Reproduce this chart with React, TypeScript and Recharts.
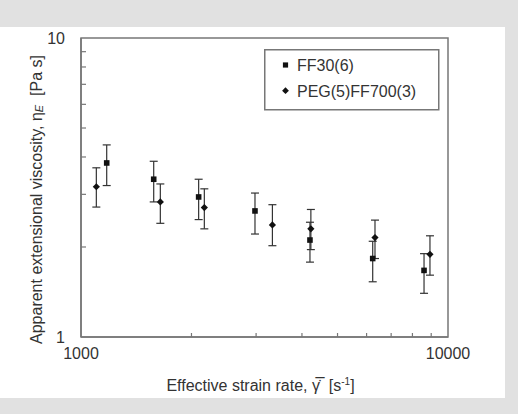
import React from 'react';
import { ScatterChart, Scatter, XAxis, YAxis, ZAxis, ErrorBar, Legend, Label, ReferenceArea } from 'recharts';

// strain rate (1/s), viscosity (Pa s) and the ends of the error bars
const ffRate = [1175, 1578, 2092, 2979, 4206, 6235, 8604];
const ffEta = [3.82, 3.37, 2.94, 2.64, 2.11, 1.83, 1.67];
const ffLow = [3.21, 2.83, 2.47, 2.21, 1.78, 1.53, 1.4];
const ffHigh = [4.39, 3.87, 3.37, 3.03, 2.42, 2.09, 1.9];

const pegRate = [1101, 1645, 2168, 3323, 4230, 6325, 8930];
const pegEta = [3.18, 2.83, 2.71, 2.37, 2.3, 2.15, 1.89];
const pegLow = [2.72, 2.4, 2.3, 2.02, 1.96, 1.83, 1.61];
const pegHigh = [3.68, 3.25, 3.13, 2.77, 2.67, 2.46, 2.18];

const xTicks = [1000, 2000, 3000, 4000, 5000, 6000, 7000, 8000, 9000, 10000];
const yTicks = [1, 2, 3, 4, 5, 6, 7, 8, 9, 10];
const xLabels = [1000, 10000];
const yLabels = [1, 10];

const build = (rate: number[], eta: number[], low: number[], high: number[]) =>
  rate.map((x, i) => ({ x, y: eta[i], err: [eta[i] - low[i], high[i] - eta[i]] }));

const ffData = build(ffRate, ffEta, ffLow, ffHigh);
const pegData = build(pegRate, pegEta, pegLow, pegHigh);

const FONT = '"Liberation Sans", Arial, sans-serif';
const AXIS = '#777';
const TEXT = '#333';
const MARK = '#111';

const squarePath = (cx: number, cy: number, r: number) =>
  `M${cx - r},${cy - r}H${cx + r}V${cy + r}H${cx - r}Z`;
const diamondPath = (cx: number, cy: number, r: number) =>
  `M${cx},${cy - r}L${cx + r},${cy}L${cx},${cy + r}L${cx - r},${cy}Z`;

const SquareDot = (props: any) => <path d={squarePath(props.cx, props.cy, 2.8)} fill={MARK} />;
const DiamondDot = (props: any) => <path d={diamondPath(props.cx, props.cy, 3.6)} fill={MARK} />;

const XTick = (props: any) => {
  const { x, y, payload } = props;
  const v = payload.value;
  if (xLabels.includes(v)) {
    return (
      <text x={x} y={y + 22} textAnchor="middle" fontSize={16} fill={TEXT} fontFamily={FONT}>
        {v}
      </text>
    );
  }
  return <line x1={x} y1={y} x2={x} y2={y - 4} stroke={AXIS} strokeWidth={1.2} />;
};

const YTick = (props: any) => {
  const { x, y, payload } = props;
  const v = payload.value;
  if (yLabels.includes(v)) {
    return (
      <text x={x - 16} y={y + 6} textAnchor="end" fontSize={16} fill={TEXT} fontFamily={FONT}>
        {v}
      </text>
    );
  }
  return <line x1={x} y1={y} x2={x + 5} y2={y} stroke={AXIS} strokeWidth={1.2} />;
};

const YTitle = (props: any) => {
  const { x, y, height } = props.viewBox;
  const cx = x + 36;
  const cy = y + height / 2 + 12;
  return (
    <text
      x={cx}
      y={cy}
      transform={`rotate(-90, ${cx}, ${cy})`}
      textAnchor="middle"
      dominantBaseline="central"
      fontSize={16}
      fill={TEXT}
      fontFamily={FONT}
      style={{ whiteSpace: 'pre' }}
    >
      Apparent extensional viscosity, η
      <tspan fontSize={11} fontStyle="italic" dy={3}>E</tspan>
      <tspan dy={-3}>{'\u00a0\u00a0[Pa s]'}</tspan>
    </text>
  );
};

const XTitle = (props: any) => {
  const { x, y, width } = props.viewBox;
  return (
    <text x={x + width / 2 - 4} y={y + 54} textAnchor="middle" fontSize={16} fill={TEXT} fontFamily={FONT}>
      Effective strain rate, {'\u03b3\u0307\u0305'}{'\u00a0\u00a0'}[s
      <tspan fontSize={10} dy={-6}>-1</tspan>
      <tspan dy={6}>]</tspan>
    </text>
  );
};

const LegendBox = (props: any) => {
  const items = props.payload || [];
  return (
    <svg width={176} height={62} style={{ display: 'block' }}>
      <rect x={0.75} y={0.75} width={174} height={60} fill="#fff" stroke={AXIS} strokeWidth={1.5} />
      {items.map((entry: any, i: number) => {
        const cy = 16 + i * 25.7;
        return (
          <g key={entry.value}>
            <path d={entry.type === 'diamond' ? diamondPath(21.5, cy, 3.4) : squarePath(21.5, cy, 2.6)} fill={MARK} />
            <text x={33} y={cy + 6} fontSize={16} fill={TEXT} fontFamily={FONT}>
              {entry.value}
            </text>
          </g>
        );
      })}
    </svg>
  );
};

export default function App() {
  return (
    <div style={{ position: 'absolute', left: 0, top: 0, width: 518, height: 414, background: '#e1e1e1' }}>
      <div style={{ position: 'absolute', left: 0, top: 27, width: 505, height: 371, background: '#fff' }}>
        <ScatterChart width={505} height={371} margin={{ top: 11, right: 57, bottom: 0, left: 0 }}>
          <XAxis
            type="number"
            dataKey="x"
            scale="log"
            domain={[1000, 10000]}
            ticks={xTicks}
            interval={0}
            allowDataOverflow
            height={61}
            tickSize={0}
            tickMargin={0}
            tick={<XTick />}
            axisLine={{ stroke: AXIS, strokeWidth: 1.5 }}
          >
            <Label content={<XTitle />} />
          </XAxis>
          <YAxis
            type="number"
            dataKey="y"
            scale="log"
            domain={[1, 10]}
            ticks={yTicks}
            interval={0}
            allowDataOverflow
            width={81}
            tickSize={0}
            tickMargin={0}
            tick={<YTick />}
            axisLine={{ stroke: AXIS, strokeWidth: 1.5 }}
          >
            <Label content={<YTitle />} />
          </YAxis>
          <ZAxis range={[30, 30]} />
          <ReferenceArea x1={1000} x2={10000} y1={1} y2={10} fill="none" stroke={AXIS} strokeWidth={1.5} />
          <Legend
            layout="horizontal"
            verticalAlign="middle"
            align="center"
            content={<LegendBox />}
            wrapperStyle={{ top: 22, left: 264, width: 176, height: 62 }}
          />
          <Scatter name="FF30(6)" data={ffData} legendType="square" shape={<SquareDot />} isAnimationActive={false}>
            <ErrorBar dataKey="err" direction="y" width={4} stroke="#333" strokeWidth={1.2} />
          </Scatter>
          <Scatter name="PEG(5)FF700(3)" data={pegData} legendType="diamond" shape={<DiamondDot />} isAnimationActive={false}>
            <ErrorBar dataKey="err" direction="y" width={4} stroke="#333" strokeWidth={1.2} />
          </Scatter>
        </ScatterChart>
      </div>
    </div>
  );
}
